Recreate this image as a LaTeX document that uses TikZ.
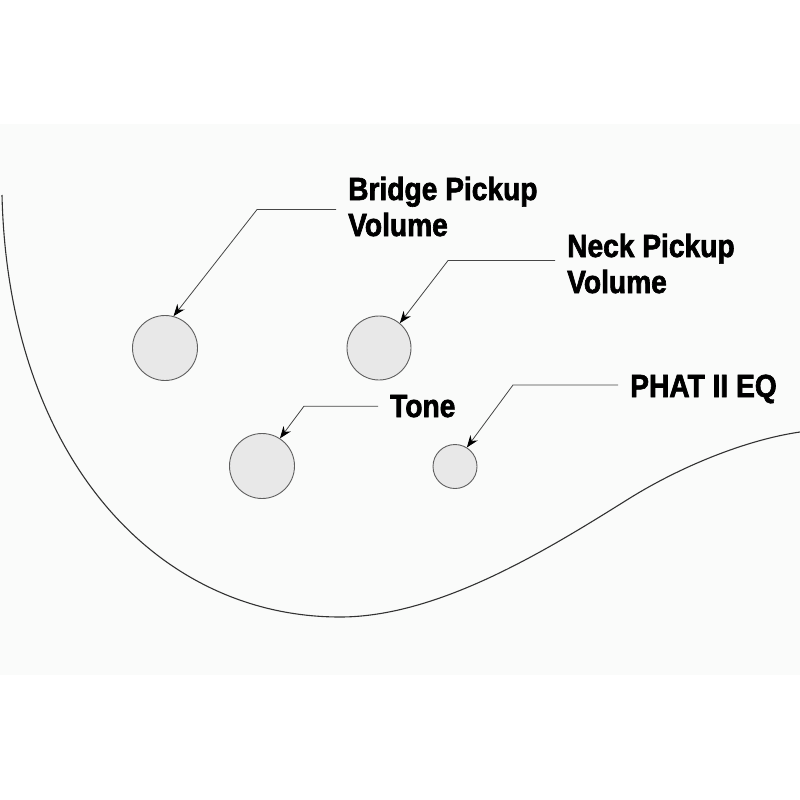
\documentclass[tikz,border=0pt]{standalone}
\usepackage{fontspec}
\setmainfont{Liberation Sans}
\newfontfamily\lblfont[FakeStretch=0.88,FakeBold=2]{Liberation Sans Bold}
\usetikzlibrary{arrows.meta}
\definecolor{panel}{RGB}{250,251,250}
\definecolor{knobfill}{RGB}{232,232,232}
\definecolor{knobline}{RGB}{95,95,95}
\definecolor{leadline}{RGB}{70,70,70}
\definecolor{bodyline}{RGB}{50,50,50}
\begin{document}
\begin{tikzpicture}[x=1pt,y=-1pt,
  knob/.style={circle,draw=knobline,fill=knobfill,line width=0.9pt,inner sep=0pt},
  lbl/.style={font=\lblfont\fontsize{32}{36}\selectfont,align=left,inner xsep=12pt,inner ysep=0pt,anchor=base west},
  leader/.style={draw=leadline,line width=0.8pt,-{Stealth[length=12pt,width=9pt,color=black]}}]
\useasboundingbox (0,0) rectangle (800,800);
\fill[white] (0,0) rectangle (800,800);
\fill[panel] (0,124) rectangle (800,675);
\draw[bodyline,line width=1.1pt] (2,195) .. controls (8,455) and (155,617) .. (340,617)
  .. controls (440,617) and (550,548) .. (630,498)
  .. controls (680,467) and (745,440) .. (800,432);
\node[knob,minimum size=65pt] (bv) at (165,348) {};
\node[knob,minimum size=64pt] (nv) at (379,348) {};
\node[knob,minimum size=65pt] (tn) at (262,466) {};
\node[knob,minimum size=44pt] (eq) at (455,466.5) {};
\node[lbl] (bl) at (336,236) {Bridge Pickup\\Volume};
\node[lbl] (nl) at (555,293) {Neck Pickup\\Volume};
\node[lbl] (tl) at (378,417) {Tone};
\node[lbl] (el) at (618,397) {PHAT II EQ};
\draw[leader] ([yshift=-3pt]bl.west) -- ++(-79,0) -- (bv.75);
\draw[leader] ([yshift=3pt]nl.west) -- ++(-107,0) -- (nv.50);
\draw[leader] (tl.west) -- ++(-74,0) -- (tn.57);
\draw[leader] ([yshift=4pt]el.west) -- ++(-105,0) -- (eq.58);
\end{tikzpicture}
\end{document}
